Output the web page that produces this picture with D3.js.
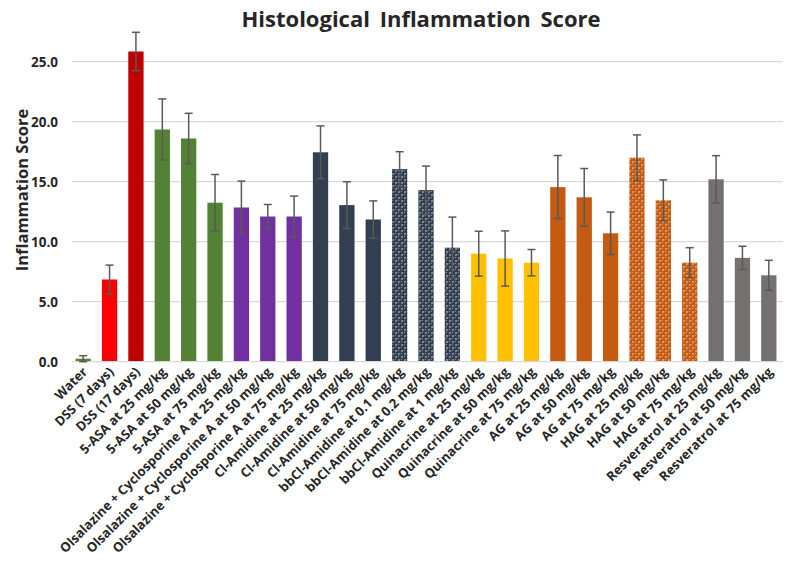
<!DOCTYPE html>
<html><head><meta charset="utf-8">
<script src="https://cdn.jsdelivr.net/npm/d3@7"></script>
<style>body{margin:0;background:#fff}svg{display:block}text{font-family:"Open Sans",sans-serif;font-weight:bold}</style>
</head><body>
<script>
const categories = ["Water","DSS (7 days)","DSS (17 days)","5-ASA at 25 mg/kg","5-ASA at 50 mg/kg","5-ASA at 75 mg/kg",
"Olsalazine + Cyclosporine A at 25 mg/kg","Olsalazine + Cyclosporine A at 50 mg/kg","Olsalazine + Cyclosporine A at 75 mg/kg",
"Cl-Amidine at 25 mg/kg","Cl-Amidine at 50 mg/kg","Cl-Amidine at 75 mg/kg",
"bbCl-Amidine at 0.1 mg/kg","bbCl-Amidine at 0.2 mg/kg","bbCl-Amidine at 1 mg/kg",
"Quinacrine at 25 mg/kg","Quinacrine at 50 mg/kg","Quinacrine at 75 mg/kg",
"AG at 25 mg/kg","AG at 50 mg/kg","AG at 75 mg/kg",
"HAG at 25 mg/kg","HAG at 50 mg/kg","HAG at 75 mg/kg",
"Resveratrol at 25 mg/kg","Resveratrol at 50 mg/kg","Resveratrol at 75 mg/kg"];
const values = [0.25,6.85,25.85,19.35,18.6,13.25,12.85,12.1,12.1,17.45,13.05,11.85,16.05,14.3,9.5,9.0,8.6,8.25,14.55,13.7,10.7,17.0,13.45,8.25,15.2,8.65,7.2];
const errors = [0.25,1.2,1.6,2.55,2.1,2.35,2.2,1.0,1.7,2.2,1.95,1.55,1.45,2.0,2.55,1.87,2.3,1.1,2.63,2.4,1.77,1.9,1.7,1.25,1.97,0.97,1.25];
const fills = ["#548235","#FF0000","#C00000","#548235","#548235","#548235","#7030A0","#7030A0","#7030A0",
"#333F50","#333F50","#333F50","url(#patNavy)","url(#patNavy)","url(#patNavy)","#FFC000","#FFC000","#FFC000",
"#C55A11","#C55A11","#C55A11","url(#patOrange)","url(#patOrange)","url(#patOrange)","#767171","#767171","#767171"];
const yTicks = [0,5,10,15,20,25];

const W=787,H=563;
const svg=d3.select("body").append("svg").attr("width",W).attr("height",H);
const defs=svg.append("defs");
function pat(id,col){
  const p=defs.append("pattern").attr("id",id).attr("patternUnits","userSpaceOnUse").attr("width",6).attr("height",6);
  p.append("rect").attr("width",6).attr("height",6).attr("fill","#fff");
  [[0,0],[6,0],[0,6],[6,6],[3,3]].forEach(([cx,cy])=>{
    p.append("circle").attr("cx",cx).attr("cy",cy).attr("r",2.5).attr("fill",col);
    p.append("circle").attr("cx",cx-0.7).attr("cy",cy-0.7).attr("r",0.6).attr("fill","#fff").attr("opacity",0.5);
  });
}
pat("patNavy","#333F50");
pat("patOrange","#C55A11");

const x=d3.scaleBand().domain(categories).range([70,782]).paddingInner(0.42).paddingOuter(0.21);
const y=d3.scaleLinear().domain([0,25]).range([361.7,61.7]);

svg.append("g").selectAll("line").data(yTicks.slice(1)).join("line")
  .attr("x1",72).attr("x2",783).attr("y1",d=>y(d)).attr("y2",d=>y(d))
  .attr("stroke","#D9D9D9").attr("stroke-width",1.3);
const ya=svg.append("g").attr("transform","translate(72,0)")
  .call(d3.axisLeft(y).tickValues(yTicks).tickFormat(d3.format(".1f")).tickSize(0).tickPadding(14));
ya.select(".domain").remove();
ya.selectAll("text").attr("font-size",13.5).attr("font-family","Open Sans").attr("font-weight","bold").attr("fill","#262626");

svg.append("g").selectAll("rect").data(categories).join("rect")
  .attr("x",d=>x(d)).attr("width",x.bandwidth())
  .attr("y",(d,i)=>y(values[i])).attr("height",(d,i)=>y(0)-y(values[i]))
  .attr("fill",(d,i)=>fills[i]);

svg.append("line").attr("x1",72).attr("x2",783).attr("y1",y(0)).attr("y2",y(0)).attr("stroke","#D9D9D9").attr("stroke-width",1.3);

const eb=svg.append("g").attr("stroke","#595959").attr("stroke-width",1.5);
categories.forEach((c,i)=>{
  const cx=x(c)+x.bandwidth()/2;
  const hi=y(values[i]+errors[i]), lo=y(Math.max(0,values[i]-errors[i]));
  eb.append("line").attr("x1",cx).attr("x2",cx).attr("y1",hi).attr("y2",lo);
  eb.append("line").attr("x1",cx-4).attr("x2",cx+4).attr("y1",hi).attr("y2",hi);
  eb.append("line").attr("x1",cx-4).attr("x2",cx+4).attr("y1",lo).attr("y2",lo);
});

const xa=svg.append("g").attr("transform",`translate(0,${y(0)})`).call(d3.axisBottom(x).tickSize(0).tickPadding(0));
xa.select(".domain").remove();
xa.selectAll("text").attr("font-size",13).attr("font-family","Open Sans").attr("font-weight","bold").attr("fill","#262626")
  .attr("text-anchor","end").attr("dy",null).attr("y",0)
  .attr("transform","translate(5,11) rotate(-45)");

svg.append("text").attr("x",421).attr("y",27).attr("text-anchor","middle").attr("font-size",22).attr("word-spacing",4)
  .attr("fill","#262626").text("Histological Inflammation Score");
svg.append("text").attr("transform","translate(28,190) rotate(-90)").attr("text-anchor","middle").attr("font-size",16.5)
  .attr("fill","#262626").text("Inflammation Score");
</script>
</body></html>
